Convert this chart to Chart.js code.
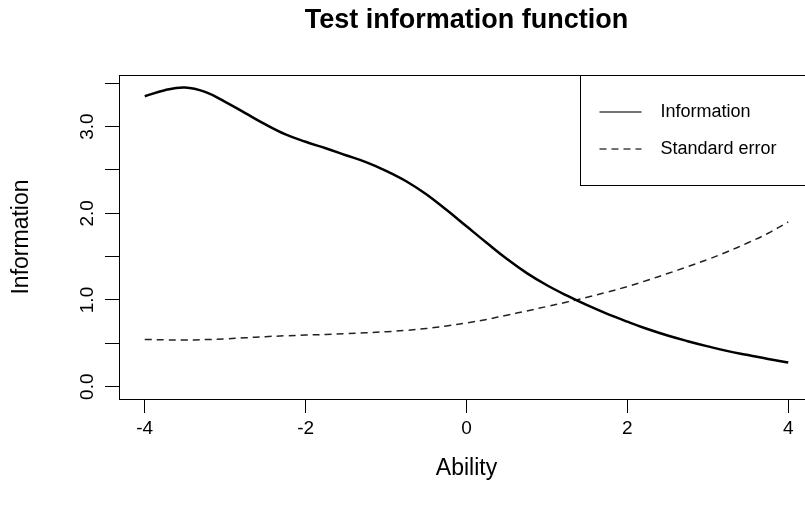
<!DOCTYPE html>
<html><head><meta charset="utf-8">
<script src="https://cdn.jsdelivr.net/npm/chart.js@4.4.1/dist/chart.umd.min.js"></script>
<style>html,body{margin:0;padding:0;background:#fff;overflow:hidden;}#wrap{width:805px;height:517px;overflow:hidden;position:relative;}canvas{display:block;}</style>
</head><body><div id="wrap"><canvas id="c" width="820" height="517"></canvas></div>
<script>
const chartTitle = 'Test information function';
const xAxisTitle = 'Ability';
const yAxisTitle = 'Information';
const seriesNames = ['Information', 'Standard error'];
const abilities = [-4,-3.75,-3.5,-3.25,-3,-2.75,-2.5,-2.25,-2,-1.75,-1.5,-1.25,-1,-0.75,-0.5,-0.25,0,0.25,0.5,0.75,1,1.25,1.5,1.75,2,2.25,2.5,2.75,3,3.25,3.5,3.75,4];
const information = [3.35,3.42,3.45,3.40,3.285,3.155,3.025,2.91,2.825,2.75,2.67,2.59,2.49,2.37,2.22,2.04,1.85,1.66,1.475,1.31,1.17,1.05,0.94,0.84,0.75,0.665,0.59,0.525,0.465,0.41,0.365,0.32,0.28];
const standardError = [0.545,0.540,0.538,0.543,0.552,0.564,0.577,0.587,0.595,0.603,0.612,0.621,0.634,0.650,0.671,0.700,0.735,0.776,0.825,0.874,0.925,0.976,1.031,1.091,1.155,1.228,1.305,1.385,1.468,1.560,1.660,1.770,1.900];
const xTicks = [-4,-2,0,2,4];
const xTickLabels = ['-4','-2','0','2','4'];
const yTicks = [0,0.5,1,1.5,2,2.5,3,3.5];
const yTickLabels = ['0.0','','1.0','','2.0','','3.0',''];

const FONT = '"Liberation Sans", Arial, Helvetica, sans-serif';
const TICK_SIZE = 19;
const LAB_SIZE = 23;

const boxPlugin = {
  id: 'rbox',
  afterDraw(chart) {
    const {ctx, chartArea: a, scales} = chart;
    ctx.save();
    ctx.strokeStyle = '#000';
    ctx.lineWidth = 1;
    ctx.strokeRect(Math.round(a.left) + 0.5, Math.round(a.top) + 0.5, Math.round(a.right - a.left), Math.round(a.bottom - a.top));
    ctx.fillStyle = '#000';
    ctx.font = TICK_SIZE + 'px ' + FONT;
    ctx.textAlign = 'center';
    ctx.textBaseline = 'middle';
    yTicks.forEach((v, i) => {
      const lab = yTickLabels[i];
      if (!lab) return;
      const py = scales.y.getPixelForValue(v);
      ctx.save();
      ctx.translate(88, py);
      ctx.rotate(-Math.PI / 2);
      ctx.fillText(lab, 0, 0);
      ctx.restore();
    });
    const L = 580.5, T = Math.round(a.top) + 0.5, R = Math.round(a.right) + 0.5, B = 185.5;
    ctx.fillStyle = '#fff';
    ctx.fillRect(L, T, R - L, B - T);
    ctx.strokeStyle = '#000';
    ctx.lineWidth = 1;
    ctx.strokeRect(L, T, R - L, B - T);
    ctx.font = '18px ' + FONT;
    ctx.textAlign = 'left';
    ctx.textBaseline = 'middle';
    chart.data.datasets.forEach((ds, i) => {
      const y = T + 37 * (i + 1) - 0.5;
      ctx.beginPath();
      ctx.strokeStyle = '#444';
      ctx.lineWidth = 1.5;
      ctx.setLineDash(ds.borderDash || []);
      ctx.moveTo(L + 19, y);
      ctx.lineTo(L + 61, y);
      ctx.stroke();
      ctx.setLineDash([]);
      ctx.fillStyle = '#000';
      ctx.fillText(ds.label, L + 80, y);
    });
    ctx.restore();
  }
};

new Chart(document.getElementById('c'), {
  type: 'line',
  data: {
    datasets: [
      { label: seriesNames[0], data: abilities.map((a, i) => ({x: a, y: information[i]})),
        borderColor: '#000', borderWidth: 2.5, pointRadius: 0, fill: false, tension: 0.4 },
      { label: seriesNames[1], data: abilities.map((a, i) => ({x: a, y: standardError[i]})),
        borderColor: '#222', borderWidth: 1.5, borderDash: [7, 5], pointRadius: 0, fill: false, tension: 0.4 }
    ]
  },
  options: {
    responsive: false, animation: false, devicePixelRatio: 1,
    layout: { padding: { left: 0, right: 6, top: 0, bottom: 0 } },
    plugins: {
      legend: { display: false }, tooltip: { enabled: false },
      title: { display: true, text: chartTitle, fullSize: false, color: '#000',
        font: { family: FONT, size: 27, weight: 'bold' }, padding: { top: 4.8, bottom: 37.8 } }
    },
    scales: {
      x: {
        type: 'linear', min: -4.32, max: 4.32,
        afterBuildTicks: s => { s.ticks = xTicks.map(v => ({ value: v })); },
        afterFit: s => { s.height = 118; },
        grid: { drawOnChartArea: false, tickLength: 14, color: '#000', tickWidth: 1 },
        border: { display: false },
        ticks: { color: '#000', font: { family: FONT, size: TICK_SIZE }, padding: 4.6, maxRotation: 0, autoSkip: false,
          callback: (v) => xTickLabels[xTicks.indexOf(v)] },
        title: { display: true, text: xAxisTitle, color: '#000', font: { family: FONT, size: LAB_SIZE }, padding: { top: 0, bottom: 34.2 } }
      },
      y: {
        type: 'linear', min: -0.142, max: 3.595,
        afterBuildTicks: s => { s.ticks = yTicks.map(v => ({ value: v })); },
        afterFit: s => { s.width = 119; },
        grid: { drawOnChartArea: false, tickLength: 14, color: '#000', tickWidth: 1 },
        border: { display: false },
        ticks: { display: false },
        title: { display: true, text: yAxisTitle, color: '#000', font: { family: FONT, size: LAB_SIZE }, padding: { top: 8.2, bottom: 0 } }
      }
    }
  },
  plugins: [boxPlugin]
});
</script>
</body></html>
